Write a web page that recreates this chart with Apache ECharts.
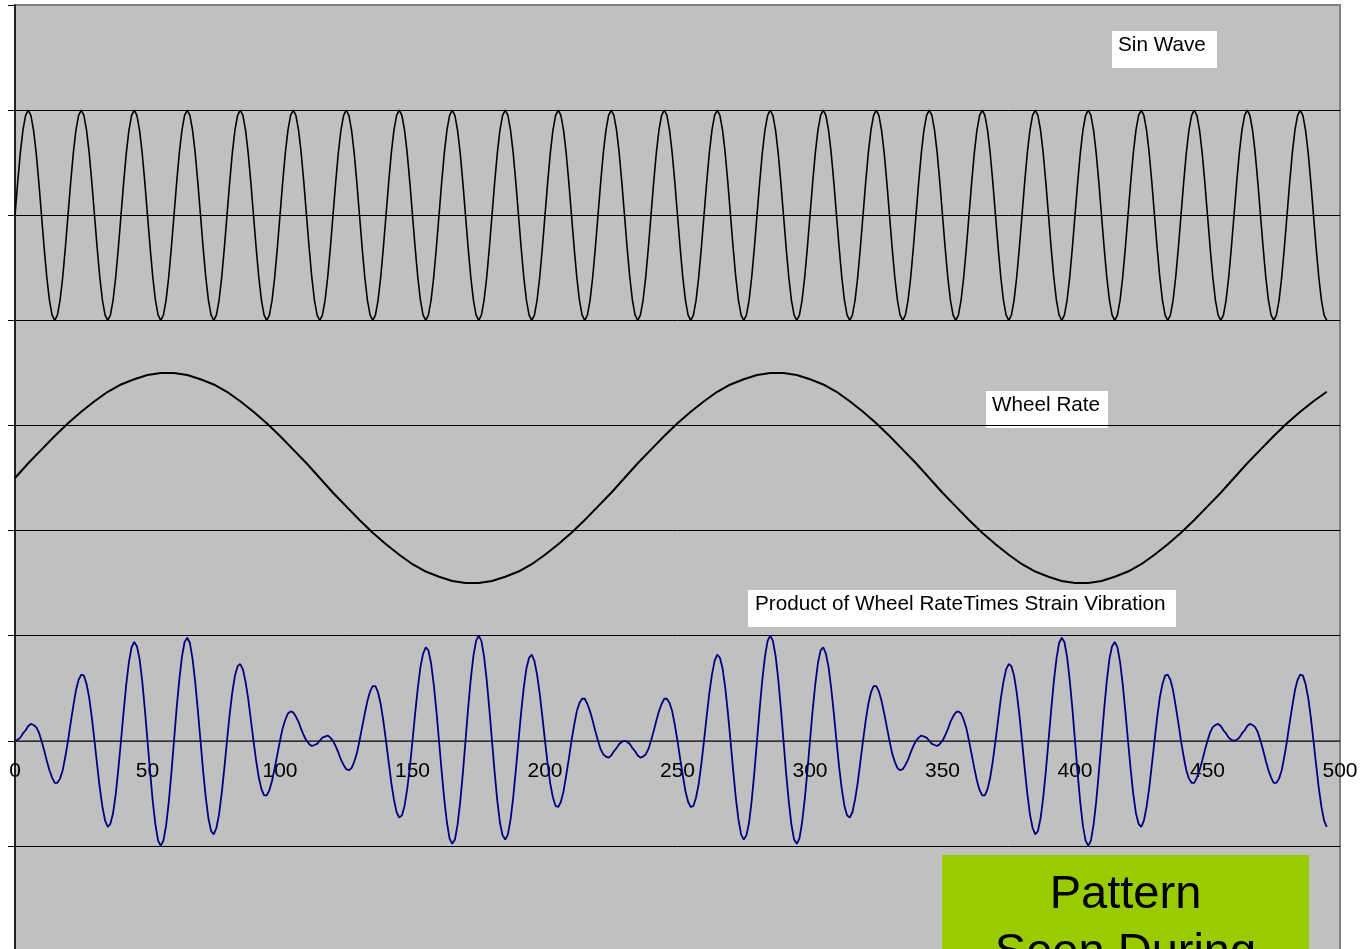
<!DOCTYPE html>
<html><head><meta charset="utf-8">
<script src="https://cdn.jsdelivr.net/npm/echarts@6/dist/echarts.min.js"></script>
<style>html,body{margin:0;padding:0;background:#fff;overflow:hidden}#c{width:1363px;height:949px}</style>
</head><body><div id="c"></div>
<script>
const xTickLabels = ['0','50','100','150','200','250','300','350','400','450','500'];

// Sin Wave (offset +5), sampled every 1 unit, x = 0..495
const sinWave = [
5,5.31,5.59,5.81,5.95,6,5.95,5.81,5.59,5.31,5,4.69,4.41,4.19,4.05,4,4.05,4.19,4.41,4.69,
5,5.31,5.59,5.81,5.95,6,5.95,5.81,5.59,5.31,5,4.69,4.41,4.19,4.05,4,4.05,4.19,4.41,4.69,
5,5.31,5.59,5.81,5.95,6,5.95,5.81,5.59,5.31,5,4.69,4.41,4.19,4.05,4,4.05,4.19,4.41,4.69,
5,5.31,5.59,5.81,5.95,6,5.95,5.81,5.59,5.31,5,4.69,4.41,4.19,4.05,4,4.05,4.19,4.41,4.69,
5,5.31,5.59,5.81,5.95,6,5.95,5.81,5.59,5.31,5,4.69,4.41,4.19,4.05,4,4.05,4.19,4.41,4.69,
5,5.31,5.59,5.81,5.95,6,5.95,5.81,5.59,5.31,5,4.69,4.41,4.19,4.05,4,4.05,4.19,4.41,4.69,
5,5.31,5.59,5.81,5.95,6,5.95,5.81,5.59,5.31,5,4.69,4.41,4.19,4.05,4,4.05,4.19,4.41,4.69,
5,5.31,5.59,5.81,5.95,6,5.95,5.81,5.59,5.31,5,4.69,4.41,4.19,4.05,4,4.05,4.19,4.41,4.69,
5,5.31,5.59,5.81,5.95,6,5.95,5.81,5.59,5.31,5,4.69,4.41,4.19,4.05,4,4.05,4.19,4.41,4.69,
5,5.31,5.59,5.81,5.95,6,5.95,5.81,5.59,5.31,5,4.69,4.41,4.19,4.05,4,4.05,4.19,4.41,4.69,
5,5.31,5.59,5.81,5.95,6,5.95,5.81,5.59,5.31,5,4.69,4.41,4.19,4.05,4,4.05,4.19,4.41,4.69,
5,5.31,5.59,5.81,5.95,6,5.95,5.81,5.59,5.31,5,4.69,4.41,4.19,4.05,4,4.05,4.19,4.41,4.69,
5,5.31,5.59,5.81,5.95,6,5.95,5.81,5.59,5.31,5,4.69,4.41,4.19,4.05,4,4.05,4.19,4.41,4.69,
5,5.31,5.59,5.81,5.95,6,5.95,5.81,5.59,5.31,5,4.69,4.41,4.19,4.05,4,4.05,4.19,4.41,4.69,
5,5.31,5.59,5.81,5.95,6,5.95,5.81,5.59,5.31,5,4.69,4.41,4.19,4.05,4,4.05,4.19,4.41,4.69,
5,5.31,5.59,5.81,5.95,6,5.95,5.81,5.59,5.31,5,4.69,4.41,4.19,4.05,4,4.05,4.19,4.41,4.69,
5,5.31,5.59,5.81,5.95,6,5.95,5.81,5.59,5.31,5,4.69,4.41,4.19,4.05,4,4.05,4.19,4.41,4.69,
5,5.31,5.59,5.81,5.95,6,5.95,5.81,5.59,5.31,5,4.69,4.41,4.19,4.05,4,4.05,4.19,4.41,4.69,
5,5.31,5.59,5.81,5.95,6,5.95,5.81,5.59,5.31,5,4.69,4.41,4.19,4.05,4,4.05,4.19,4.41,4.69,
5,5.31,5.59,5.81,5.95,6,5.95,5.81,5.59,5.31,5,4.69,4.41,4.19,4.05,4,4.05,4.19,4.41,4.69,
5,5.31,5.59,5.81,5.95,6,5.95,5.81,5.59,5.31,5,4.69,4.41,4.19,4.05,4,4.05,4.19,4.41,4.69,
5,5.31,5.59,5.81,5.95,6,5.95,5.81,5.59,5.31,5,4.69,4.41,4.19,4.05,4,4.05,4.19,4.41,4.69,
5,5.31,5.59,5.81,5.95,6,5.95,5.81,5.59,5.31,5,4.69,4.41,4.19,4.05,4,4.05,4.19,4.41,4.69,
5,5.31,5.59,5.81,5.95,6,5.95,5.81,5.59,5.31,5,4.69,4.41,4.19,4.05,4,4.05,4.19,4.41,4.69,
5,5.31,5.59,5.81,5.95,6,5.95,5.81,5.59,5.31,5,4.69,4.41,4.19,4.05,4
];

// Wheel Rate (offset +2.5), sampled every 5 units, x = 0..495
const wheelStep = 5;
const wheelRate = [
2.5,2.64,2.77,2.90,3.02,3.13,3.23,3.32,3.39,3.44,3.48,3.50,
3.50,3.48,3.44,3.39,3.32,3.23,3.13,3.02,2.90,2.77,2.64,2.5,
2.36,2.23,2.10,1.98,1.87,1.77,1.68,1.61,1.56,1.52,1.50,1.50,
1.52,1.56,1.61,1.68,1.77,1.87,1.98,2.10,2.23,2.36,
2.5,2.64,2.77,2.90,3.02,3.13,3.23,3.32,3.39,3.44,3.48,3.50,
3.50,3.48,3.44,3.39,3.32,3.23,3.13,3.02,2.90,2.77,2.64,2.5,
2.36,2.23,2.10,1.98,1.87,1.77,1.68,1.61,1.56,1.52,1.50,1.50,
1.52,1.56,1.61,1.68,1.77,1.87,1.98,2.10,2.23,2.36,
2.5,2.64,2.77,2.90,3.02,3.13,3.23,3.32
];

// Product of Wheel Rate Times Strain Vibration, sampled every 1 unit, x = 0..495
const product = [
0,.01,.03,.07,.10,.14,.16,.15,.13,.08,
0,-.09,-.19,-.28,-.35,-.40,-.40,-.36,-.28,-.15,
0,.17,.33,.48,.58,.63,.62,.54,.41,.22,
0,-.23,-.45,-.63,-.76,-.82,-.79,-.69,-.51,-.27,
0,.28,.54,.75,.89,.94,.90,.78,.57,.30,
0,-.30,-.58,-.80,-.95,-1,-.95,-.81,-.59,-.31,
0,.31,.58,.80,.94,.98,.93,.78,.56,.29,
0,-.29,-.54,-.74,-.86,-.89,-.83,-.70,-.50,-.26,
0,.25,.46,.62,.71,.73,.68,.56,.40,.20,
0,-.19,-.35,-.46,-.52,-.52,-.47,-.38,-.26,-.13,
0,.12,.20,.26,.28,.27,.23,.18,.11,.05,
0,-.03,-.05,-.04,-.03,0,.03,.04,.05,.03,
0,-.05,-.11,-.18,-.23,-.27,-.28,-.26,-.20,-.12,
0,.13,.26,.38,.47,.52,.52,.46,.35,.19,
0,-.20,-.40,-.56,-.68,-.73,-.71,-.62,-.46,-.25,
0,.26,.50,.70,.83,.89,.86,.74,.54,.29,
0,-.29,-.56,-.78,-.93,-.98,-.94,-.80,-.58,-.31,
0,.31,.59,.81,.95,1,.95,.80,.58,.30,
0,-.30,-.57,-.78,-.90,-.94,-.89,-.75,-.54,-.28,
0,.27,.51,.69,.79,.82,.76,.63,.45,.23,
0,-.22,-.41,-.54,-.62,-.63,-.58,-.48,-.33,-.17,
0,.15,.28,.36,.40,.40,.35,.28,.19,.09,
0,-.08,-.13,-.15,-.16,-.14,-.10,-.07,-.03,-.01,
0,-.01,-.03,-.07,-.10,-.14,-.16,-.15,-.13,-.08,
0,.09,.19,.28,.35,.40,.40,.36,.28,.15,
0,-.17,-.33,-.48,-.58,-.63,-.62,-.54,-.41,-.22,
0,.23,.45,.63,.76,.82,.79,.69,.51,.27,
0,-.28,-.54,-.75,-.89,-.94,-.90,-.78,-.57,-.30,
0,.30,.58,.80,.95,1,.95,.81,.59,.31,
0,-.31,-.58,-.80,-.94,-.98,-.93,-.78,-.56,-.29,
0,.29,.54,.74,.86,.89,.83,.70,.50,.26,
0,-.25,-.46,-.62,-.71,-.73,-.68,-.56,-.40,-.20,
0,.19,.35,.46,.52,.52,.47,.38,.26,.13,
0,-.12,-.20,-.26,-.28,-.27,-.23,-.18,-.11,-.05,
0,.03,.05,.04,.03,0,-.03,-.04,-.05,-.03,
0,.05,.11,.18,.23,.27,.28,.26,.20,.12,
0,-.13,-.26,-.38,-.47,-.52,-.52,-.46,-.35,-.19,
0,.20,.40,.56,.68,.73,.71,.62,.46,.25,
0,-.26,-.50,-.70,-.83,-.89,-.86,-.74,-.54,-.29,
0,.29,.56,.78,.93,.98,.94,.80,.58,.31,
0,-.31,-.59,-.81,-.95,-1,-.95,-.80,-.58,-.30,
0,.30,.57,.78,.90,.94,.89,.75,.54,.28,
0,-.27,-.51,-.69,-.79,-.82,-.76,-.63,-.45,-.23,
0,.22,.41,.54,.62,.63,.58,.48,.33,.17,
0,-.15,-.28,-.36,-.40,-.40,-.35,-.28,-.19,-.09,
0,.08,.13,.15,.16,.14,.10,.07,.03,.01,
0,.01,.03,.07,.10,.14,.16,.15,.13,.08,
0,-.09,-.19,-.28,-.35,-.40,-.40,-.36,-.28,-.15,
0,.17,.33,.48,.58,.63,.62,.54,.41,.22,
0,-.23,-.45,-.63,-.76,-.82
];

const seriesLabels = ['Sin Wave', 'Wheel Rate', 'Product of Wheel RateTimes Strain Vibration'];
const noteLines = ['Pattern', 'Seen During'];

const FONT = "'Liberation Sans', Arial, sans-serif";
const chart = echarts.init(document.getElementById('c'), null, {renderer: 'canvas'});

const splitColors = ['#000','#000','#000','#000','#000','#000','#000','#000','#000','#808080'];

function labelBox(x, y, w, h, text, tx, ty) {
  return {
    type: 'group', z: 100,
    children: [
      {type: 'rect', shape: {x: x, y: y, width: w, height: h}, style: {fill: '#fff'}},
      {type: 'text', x: tx, y: ty, style: {text: text, fill: '#000', font: '20.7px ' + FONT, textVerticalAlign: 'middle', verticalAlign: 'middle', textAlign: 'left'}}
    ]
  };
}

const GRID_TOP = 5, GRID_H = 946;
// distance from grid bottom (value -2) to value 0, in px
const zeroOffset = GRID_H * 2 / 9;

chart.setOption({
  animation: false,
  backgroundColor: '#fff',
  grid: {left: 15, top: GRID_TOP, width: 1325, height: GRID_H, show: true, backgroundColor: '#C0C0C0',
         borderColor: '#808080', borderWidth: 2, containLabel: false, outerBoundsMode: 'none'},
  xAxis: {
    type: 'value', min: 0, max: 500, interval: 50, position: 'bottom', offset: -zeroOffset,
    axisLine: {show: true, onZero: false, lineStyle: {color: '#404040', width: 1.5}},
    axisTick: {show: false},
    splitLine: {show: false},
    axisLabel: {show: true, color: '#000', fontSize: 21, fontFamily: FONT, margin: 20,
      formatter: function (v) { return xTickLabels[Math.round(v / 50)]; }}
  },
  yAxis: {
    type: 'value', min: -2, max: 7, interval: 1,
    axisLine: {show: true, onZero: false, lineStyle: {color: '#000', width: 1.5}},
    axisTick: {show: true, inside: false, length: 7, lineStyle: {color: '#000', width: 1}},
    axisLabel: {show: false},
    splitLine: {show: true, lineStyle: {color: splitColors, width: 1}}
  },
  series: [
    {name: seriesLabels[0], type: 'line', showSymbol: false, symbol: 'none', smooth: false,
     lineStyle: {color: '#000', width: 1.6}, data: sinWave.map((v, i) => [i, v]), z: 3},
    {name: seriesLabels[1], type: 'line', showSymbol: false, symbol: 'none', smooth: false,
     lineStyle: {color: '#000', width: 2}, data: wheelRate.map((v, i) => [i * wheelStep, v]), z: 3},
    {name: seriesLabels[2], type: 'line', showSymbol: false, symbol: 'none', smooth: false,
     lineStyle: {color: '#000080', width: 1.8}, data: product.map((v, i) => [i, v]), z: 3}
  ],
  graphic: [
    labelBox(1112, 31, 105, 37, seriesLabels[0], 1118, 45),
    labelBox(986, 391, 122, 37, seriesLabels[1], 992, 405),
    labelBox(748, 590, 428, 37, seriesLabels[2], 755, 604),
    {type: 'group', z: 100, children: [
      {type: 'rect', shape: {x: 942, y: 855, width: 367, height: 140}, style: {fill: '#99CC00'}},
      {type: 'text', x: 1125.5, y: 895, style: {text: noteLines[0], fill: '#000', font: '47px ' + FONT, textAlign: 'center', textVerticalAlign: 'middle', verticalAlign: 'middle'}},
      {type: 'text', x: 1125.5, y: 953, style: {text: noteLines[1], fill: '#000', font: '47px ' + FONT, textAlign: 'center', textVerticalAlign: 'middle', verticalAlign: 'middle'}}
    ]}
  ]
});
</script></body></html>
